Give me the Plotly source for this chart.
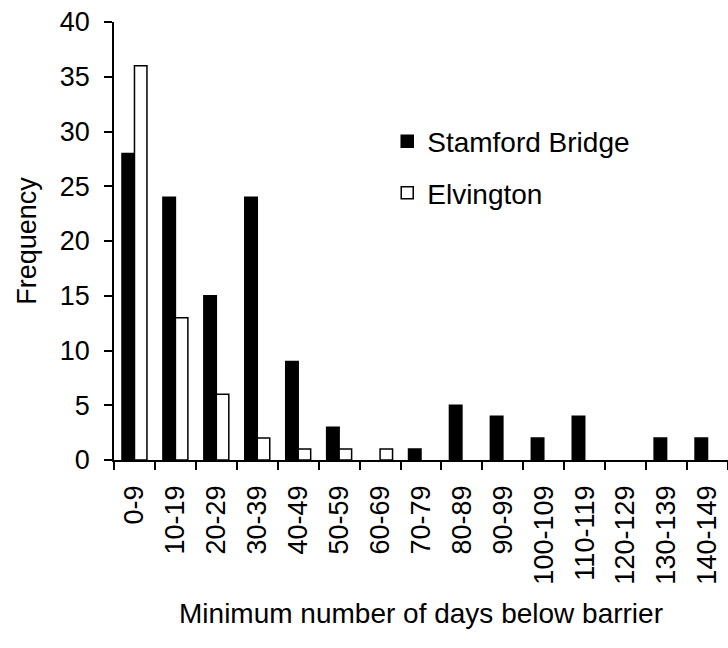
import plotly.graph_objects as go

categories = ["0-9", "10-19", "20-29", "30-39", "40-49", "50-59", "60-69", "70-79",
              "80-89", "90-99", "100-109", "110-119", "120-129", "130-139", "140-149"]
stamford = [28, 24, 15, 24, 9, 3, 0, 1, 5, 4, 2, 4, 0, 2, 2]
elvington = [36, 13, 6, 2, 1, 1, 1, 0, 0, 0, 0, 0, 0, 0, 0]

FONT = "Liberation Sans, Arial, sans-serif"


def hide_zero(vals):
    return [v if v != 0 else None for v in vals]


fig = go.Figure()
fig.add_trace(go.Bar(x=categories, y=hide_zero(stamford), name="Stamford Bridge",
                     marker=dict(color="black", line=dict(color="black", width=1.5)),
                     legendgroup="a"))
fig.add_trace(go.Bar(x=categories, y=hide_zero(elvington), name="Elvington",
                     marker=dict(color="white", line=dict(color="black", width=1.5)),
                     legendgroup="b"))

fig.update_layout(
    width=728, height=648,
    margin=dict(l=114, r=0, t=22, b=188),
    paper_bgcolor="white", plot_bgcolor="white",
    font=dict(family=FONT, size=27, color="black"),
    barmode="group", bargap=0.39, bargroupgap=0,
    showlegend=True,
    legend=dict(x=0.445, y=0.784, xanchor="left", yanchor="top",
                font=dict(size=28), tracegroupgap=12,
                bgcolor="rgba(0,0,0,0)", traceorder="grouped"),
)
fig.update_xaxes(
    automargin=False,
    showline=True, linecolor="black", linewidth=1.5,
    ticks="outside", ticklen=8, tickwidth=1.5, tickcolor="black",
    tickson="boundaries", tickangle=-90, ticklabelstandoff=13,
    showgrid=False, zeroline=False,
    tickfont=dict(size=27),
    title=dict(text="Minimum number of days below barrier", font=dict(size=28), standoff=20),
)
fig.update_yaxes(
    automargin=False,
    range=[0, 40], dtick=5, tick0=0,
    showline=True, linecolor="black", linewidth=1.5,
    ticks="outside", ticklen=8, tickwidth=1.5, tickcolor="black",
    ticklabelstandoff=9,
    showgrid=False, zeroline=False,
    tickfont=dict(size=27),
    title=dict(text="Frequency", font=dict(size=27), standoff=15),
)

fig.write_html("out.html",
               config={"displayModeBar": False},
               post_script="document.body.style.margin='0';document.body.style.overflow='hidden';")
